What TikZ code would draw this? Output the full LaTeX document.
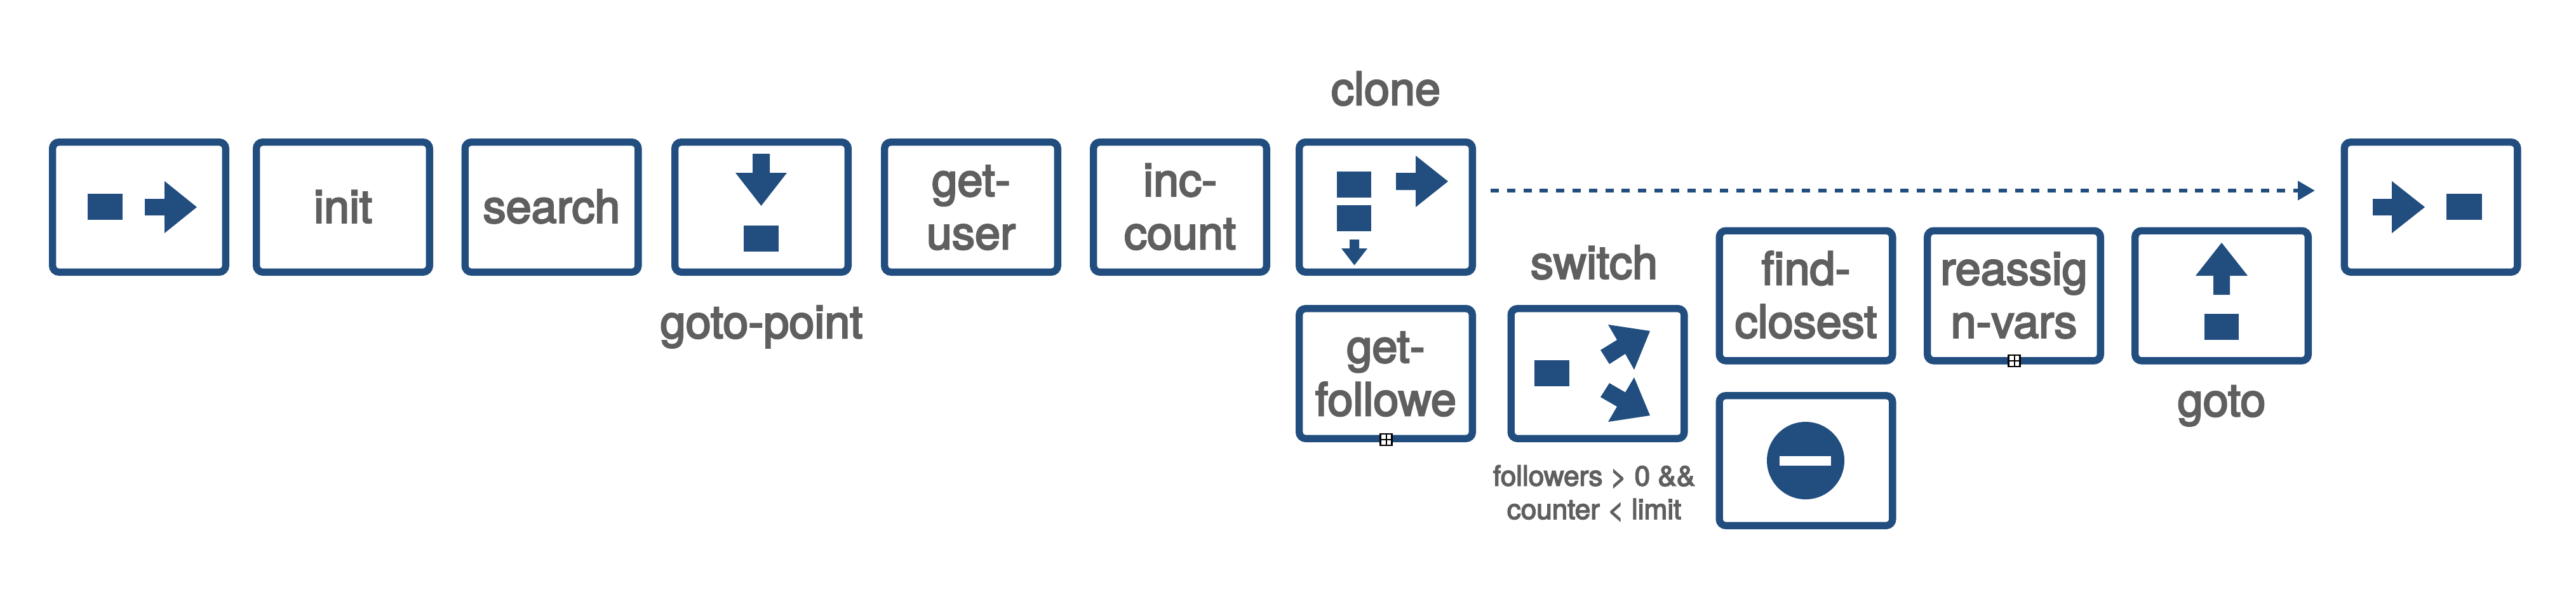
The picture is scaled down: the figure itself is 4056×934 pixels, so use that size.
\documentclass[tikz,border=0pt]{standalone}
\usepackage{fontspec}
\setmainfont[FakeBold=3.5]{TeX Gyre Heros}
\usetikzlibrary{arrows.meta}
\definecolor{bluebox}{HTML}{214D7F}
\definecolor{graytxt}{HTML}{5F5F5F}
\tikzset{
  x=0.5pt,y=-0.5pt,
  box/.style={draw=bluebox,line width=5.7pt,rounded corners=5pt,fill=white,
    minimum width=136.3pt,minimum height=102.3pt,inner sep=0pt,outer sep=0pt,
    text=graytxt,font=\fontsize{36}{41.75}\selectfont,align=center},
  one/.style={text height=24.5pt,text depth=0pt},
  two/.style={text height=66pt,text depth=0pt},
  lbl/.style={text=graytxt,font=\fontsize{36}{41.75}\selectfont,anchor=base,inner sep=0pt},
  cond/.style={text=graytxt,font=\fontsize{22}{26.5}\selectfont,anchor=base,inner sep=0pt},
  icon/.style={fill=bluebox,draw=none},
  plusbox/.style={draw=black,line width=1.4pt,fill=white,minimum width=9pt,minimum height=9pt,inner sep=0pt,outer sep=0pt},
  flow/.style={draw=bluebox,line width=3.2pt,dash pattern=on 6.5pt off 6.4pt,-{Triangle[length=13.5pt,width=14.5pt,fill=bluebox]}}
}
\begin{document}
\begin{tikzpicture}
\useasboundingbox (0,0) rectangle (4056,934);
% boxes
\node[box] (start) at (219,326) {};
\node[box,one] (init) at (540,326) {init};
\node[box,one] (search) at (868.5,326) {search};
\node[box] (gotopoint) at (1199,326) {};
\node[box,two] (getuser) at (1529,326) {get-\\user};
\node[box,two] (inccount) at (1858,326) {inc-\\count};
\node[box] (clone) at (2182,326) {};
\node[box,two] (getfollowe) at (2182,588) {get-\\followe};
\node[box] (switch) at (2515.5,588) {};
\node[box,two] (findclosest) at (2843.5,465.5) {find-\\closest};
\node[box] (stopbox) at (2843.5,725) {};
\node[box,two] (reassign) at (3171,465.5) {reassig\\n-vars};
\node[box] (gotobox) at (3498,465.5) {};
\node[box] (finish) at (3827.5,326) {};
% labels
\node[lbl] (lgotopoint) at (1199,532) {goto-point};
\node[lbl] (lclone) at (2182,165) {clone};
\node[lbl] (lswitch) at (2510,438.5) {switch};
\node[lbl] (lgoto) at (3498,655) {goto};
\node[cond] (lcond1) at (2510,764.5) {followers > 0 \&\&};
\node[cond] (lcond2) at (2510,817) {counter < limit};
% plus markers
\node[plusbox] (plus1) at (2182.5,692) {};
\draw[black,line width=1pt] (plus1.west) -- (plus1.east) (plus1.north) -- (plus1.south);
\node[plusbox] (plus2) at (3171.5,568) {};
\draw[black,line width=1pt] (plus2.west) -- (plus2.east) (plus2.north) -- (plus2.south);
% dotted connector
\coordinate (flowa) at (2347,300);
\coordinate (flowb) at (3645,300);
\draw[flow] (flowa) -- (flowb);
% start icon
\fill[icon] (138,305) rectangle (193,346);
\fill[icon] (228,313) -- (259,313) -- (259,285) -- (310,326) -- (259,367) -- (259,339) -- (228,339) -- cycle;
% goto-point icon
\fill[icon] (1185,242) -- (1212,242) -- (1212,272) -- (1239,272) -- (1198.5,324) -- (1158,272) -- (1185,272) -- cycle;
\fill[icon] (1171,355) rectangle (1226,396);
% clone icon
\fill[icon] (2105,270) rectangle (2159,311);
\fill[icon] (2105,323) rectangle (2159,364);
\fill[icon] (2198,272) -- (2229,272) -- (2229,245) -- (2280,285.5) -- (2229,326) -- (2229,299) -- (2198,299) -- cycle;
\fill[icon] (2125,377) -- (2140,377) -- (2140,391) -- (2153,391) -- (2132.5,417.5) -- (2112,391) -- (2125,391) -- cycle;
% switch icon
\fill[icon] (2416,567) rectangle (2471,608);
\fill[icon] (2532,511) -- (2598,521) -- (2573,582) -- (2559,557) -- (2534,573) -- (2520,551) -- (2546,535) -- cycle;
\fill[icon] (2573,594) -- (2598,654) -- (2532,664) -- (2546,640) -- (2520,625) -- (2534,603) -- (2559,617.5) -- cycle;
% stop icon
\fill[icon] (2843,725) circle [radius=61];
\fill[white] (2802,718) rectangle (2883,733);
% goto icon
\fill[icon] (3498,382) -- (3539,434) -- (3511,434) -- (3511,464) -- (3485,464) -- (3485,434) -- (3457,434) -- cycle;
\fill[icon] (3471,494) rectangle (3525,535);
% end icon
\fill[icon] (3736,313) -- (3766,313) -- (3766,285) -- (3818,326) -- (3766,367) -- (3766,339) -- (3736,339) -- cycle;
\fill[icon] (3852,305) rectangle (3908,346);
\end{tikzpicture}
\end{document}
